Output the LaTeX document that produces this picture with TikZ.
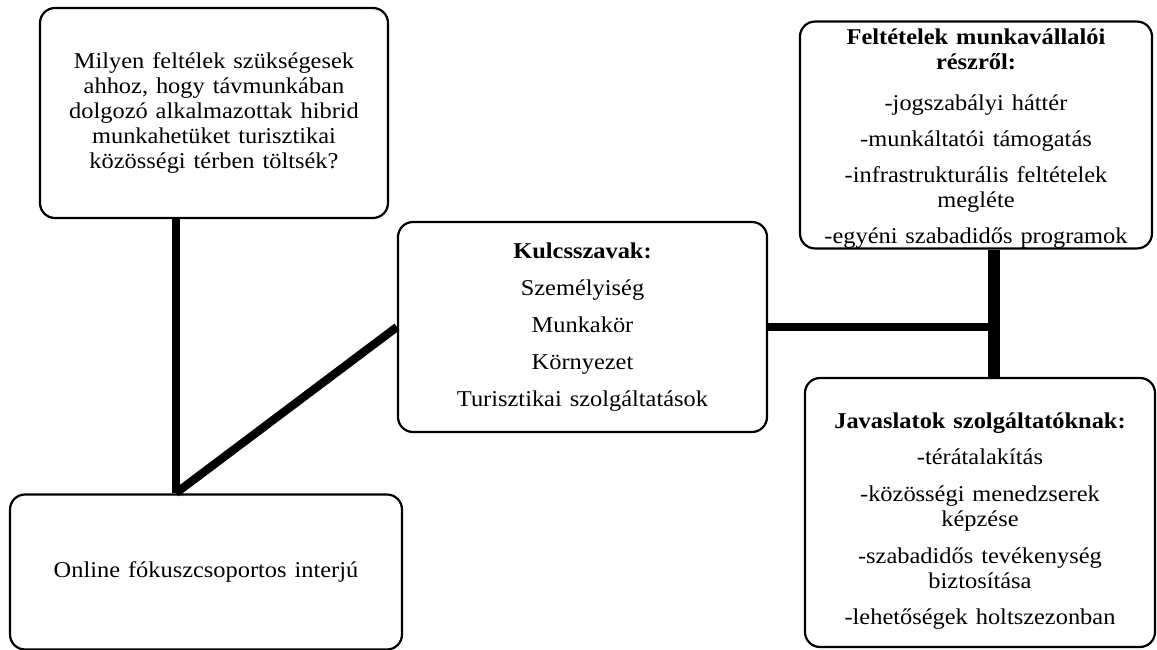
\documentclass[tikz,border=0pt]{standalone}
\usepackage{fontspec}
\setmainfont{Liberation Serif}[FakeStretch=1.08,WordSpace=1.3]
\usetikzlibrary{positioning}

\begin{document}
\begin{tikzpicture}[x=1pt,y=-1pt,
    box/.style={draw,line width=2.2pt,rounded corners=15pt,align=center,
      inner sep=0pt,font=\fontsize{22.6}{25}\selectfont},
    link/.style={line width=8.3pt},
    thick link/.style={line width=12.5pt}]
      \useasboundingbox (0,0) rectangle (1157,650);
      \node[box,minimum width=348pt,minimum height=210pt] (kerdes) at (214,113)
        {Milyen feltélek szükségesek\\ ahhoz, hogy távmunkában\\
         dolgozó alkalmazottak hibrid\\ munkahetüket turisztikai\\
         közösségi térben töltsék?};
      \node[box,minimum width=369pt,minimum height=210pt] (kulcs) at (582.5,327)
        {\textbf{Kulcsszavak:}\\[12pt] Személyiség\\[12pt] Munkakör\\[12pt]
         Környezet\\[12pt] Turisztikai szolgáltatások};
      \node[box,minimum width=352pt,minimum height=224pt] (feltetel) at (976,135)
        {\rule{0pt}{23pt}\textbf{Feltételek munkavállalói}\\ \textbf{részről:}\\[16pt]
         -jogszabályi háttér\\[11pt] -munkáltatói támogatás\\[11pt]
         -infrastrukturális feltételek\\ megléte\\[11pt]
         -egyéni szabadidős programok};
      \node[box,minimum width=392pt,minimum height=155pt] (interju) at (206,572)
        {Online fókuszcsoportos interjú};
      \node[box,minimum width=350pt,minimum height=269pt] (javaslat) at (980,512.5)
        {\rule{0pt}{32pt}\textbf{Javaslatok szolgáltatóknak:}\\[11pt] -térátalakítás\\[12pt]
         -közösségi menedzserek\\ képzése\\[12pt]
         -szabadidős tevékenység\\ biztosítása\\[11pt]
         -lehetőségek holtszezonban};
      \coordinate (also) at (176,493);
      \coordinate (elag) at (994,327);
      \draw[link] (kerdes.south -| also) -- (also);
      \draw[link] (also) -- (kulcs.west);
      \draw[link] (kulcs.east) -- (elag);
      \draw[thick link] (feltetel.south -| elag) -- (javaslat.north -| elag);
\end{tikzpicture}
\end{document}
